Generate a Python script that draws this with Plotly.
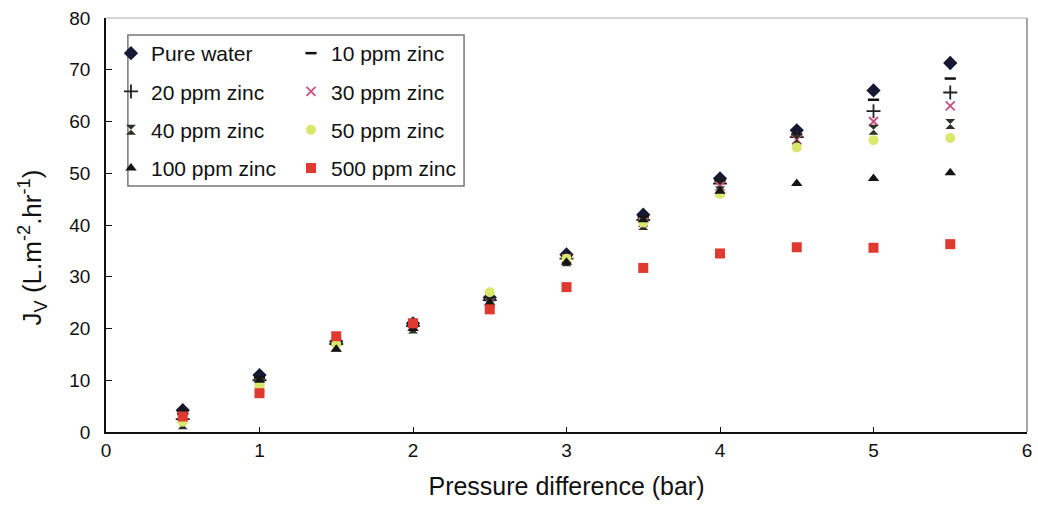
import plotly.graph_objects as go

pressure = [0.5, 1.0, 1.5, 2.0, 2.5, 3.0, 3.5, 4.0, 4.5, 5.0, 5.5]

pure_water = [4.2, 11.0, 17.5, 21.0, 26.0, 34.3, 42.0, 49.0, 58.3, 66.0, 71.3]
zinc_10 = [3.5, 10.5, 17.0, 20.5, 25.5, 34.0, 41.5, 48.5, 57.5, 64.2, 68.3]
zinc_20 = [2.5, 10.0, 17.0, 20.5, 25.5, 33.5, 41.0, 48.0, 57.0, 62.0, 65.6]
zinc_30 = [2.8, 8.5, 17.5, 21.0, 25.0, 33.5, 40.5, 47.5, 56.5, 60.0, 63.0]
zinc_40 = [1.5, 9.5, 16.5, 20.0, 25.0, 33.0, 40.0, 46.5, 56.5, 58.4, 59.5]
zinc_50 = [2.0, 9.0, 17.0, 20.5, 27.0, 33.5, 40.5, 46.0, 55.0, 56.4, 56.8]
zinc_100 = [4.0, 10.0, 16.0, 20.0, 25.0, 32.8, 41.0, 46.5, 48.0, 49.0, 50.1]
zinc_500 = [3.0, 7.5, 18.5, 21.0, 23.7, 28.0, 31.7, 34.5, 35.7, 35.6, 36.3]

series_names = ["Pure water", "10 ppm zinc", "20 ppm zinc", "30 ppm zinc",
                "40 ppm zinc", "50 ppm zinc", "100 ppm zinc", "500 ppm zinc"]
series_values = [pure_water, zinc_10, zinc_20, zinc_30, zinc_40, zinc_50, zinc_100, zinc_500]

x_ticks = [0, 1, 2, 3, 4, 5, 6]
y_ticks = [0, 10, 20, 30, 40, 50, 60, 70, 80]

x_title = "Pressure difference (bar)"
y_title = "J<sub>V</sub> (L.m<sup>-2</sup>.hr<sup>-1</sup>)"

styles = [
    dict(symbol="diamond", color="#141833", size=11, line=dict(width=0)),
    dict(symbol="line-ew", color="#111111", size=8, line=dict(width=2.5, color="#111111")),
    dict(symbol="cross-thin", color="#222222", size=10, line=dict(width=1.8, color="#222222")),
    dict(symbol="x-thin", color="#c8507a", size=9, line=dict(width=1.8, color="#c8507a")),
    dict(symbol="hourglass", color="#2b3324", size=10, line=dict(width=0)),
    dict(symbol="circle", color="#d9e76a", size=10, line=dict(width=0)),
    dict(symbol="triangle-up", color="#151515", size=10, line=dict(width=0)),
    dict(symbol="square", color="#e03a30", size=10, line=dict(width=0)),
]
legend_of = ["legend", "legend2", "legend", "legend2", "legend", "legend2", "legend", "legend2"]

FONT = "Liberation Sans, Arial, sans-serif"

fig = go.Figure()
for i, (name, vals, st) in enumerate(zip(series_names, series_values, styles)):
    fig.add_trace(go.Scatter(
        x=pressure, y=vals, mode="markers", name=name,
        marker=st, legend=legend_of[i], legendgroup=f"g{i}",
    ))

# plot area: x 106..1032, y 18..432
def px_x(p):
    return (p - 106) / 926

def px_y(p):
    return 1 - (p - 18) / 414

legend_common = dict(
    bgcolor="rgba(0,0,0,0)", borderwidth=0, tracegroupgap=8,
    font=dict(family=FONT, size=21, color="#111111"),
    xanchor="left", yanchor="top", itemwidth=30,
)
fig.update_layout(
    width=1038, height=512,
    margin=dict(l=106, r=6, t=18, b=80),
    paper_bgcolor="white", plot_bgcolor="white",
    font=dict(family=FONT, size=20, color="#111111"),
    showlegend=True,
    legend=dict(x=px_x(111), y=px_y(33), **legend_common),
    legend2=dict(x=px_x(292), y=px_y(33), **legend_common),
    xaxis=dict(
        range=[0, 6], tickvals=x_ticks, ticktext=[str(v) for v in x_ticks],
        showgrid=False, zeroline=False,
        showline=True, linecolor="#111111", linewidth=1.5,
        ticks="inside", ticklen=5, tickcolor="#111111",
        tickfont=dict(family=FONT, size=19, color="#111111"),
        title=dict(text=x_title, standoff=18,
                   font=dict(family=FONT, size=25, color="#111111")),
    ),
    yaxis=dict(
        range=[0, 80], tickvals=y_ticks, ticktext=[str(v) for v in y_ticks],
        showgrid=False, zeroline=False,
        showline=True, linecolor="#111111", linewidth=1.5,
        ticks="inside", ticklen=6, tickcolor="#111111",
        ticklabelstandoff=10,
        tickfont=dict(family=FONT, size=19, color="#111111"),
    ),
    annotations=[
        dict(text=y_title, xref="paper", yref="paper",
             x=px_x(32), y=px_y(247), xanchor="center", yanchor="middle",
             textangle=-90, showarrow=False,
             font=dict(family=FONT, size=26, color="#111111")),
    ],
    shapes=[
        dict(type="rect", xref="paper", yref="paper",
             x0=px_x(128), x1=px_x(466), y0=px_y(186), y1=px_y(35),
             line=dict(color="#777777", width=1.5), fillcolor="rgba(0,0,0,0)", layer="below"),
        dict(type="line", xref="paper", yref="paper", x0=0, x1=1, y0=1, y1=1,
             line=dict(color="#aaaaaa", width=1)),
        dict(type="line", xref="paper", yref="paper", x0=1, x1=1, y0=0, y1=1,
             line=dict(color="#888888", width=1.5)),
    ],
)

fig.write_html("out.html")
